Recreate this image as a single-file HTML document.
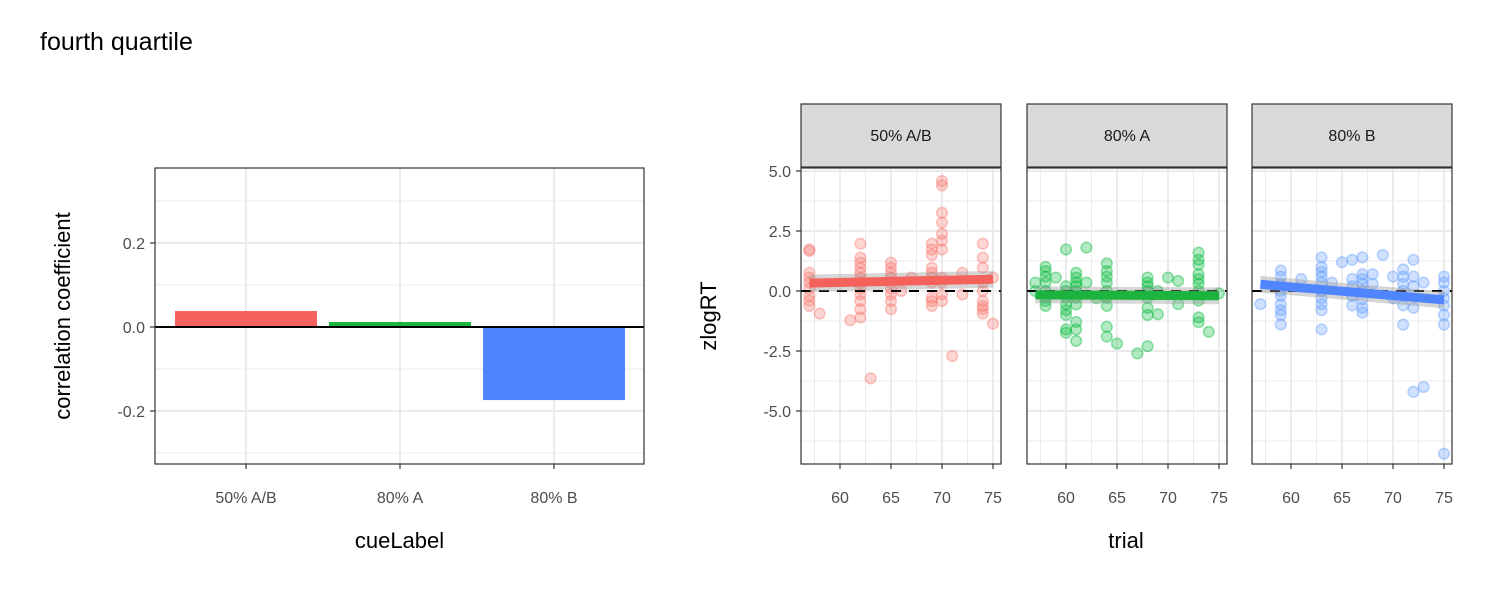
<!DOCTYPE html>
<html><head><meta charset="utf-8"><style>
html,body{margin:0;padding:0;background:#fff;}
svg{display:block;font-family:"Liberation Sans",sans-serif;}
</style></head><body>
<svg id="chart" width="1500" height="600" viewBox="0 0 1500 600"></svg>
<script>
const cueLabels = ["50% A/B","80% A","80% B"];
const corrValues = [0.038, 0.012, -0.174];
const corrTicks = [-0.2, 0.0, 0.2];
const barColors = ["#F5625C","#1DB33F","#4F86FF"];
const ptColors = ["#F8766D","#00BA38","#619CFF"];
const facetTicksX = [60,65,70,75];
const facetTicksY = [-5,-2.5,0,2.5,5];
const pts50 = [[57,1.73],[57,1.67],[57,0.76],[57,0.56],[57,0.35],[57,0.1],[57,-0.2],[57,-0.4],[57,-0.62],[58,-0.94],[61,-1.22],
[62,1.97],[62,1.39],[62,1.18],[62,0.97],[62,0.76],[62,0.56],[62,0.35],[62,0.1],[62,-0.14],[62,-0.42],[62,-0.76],[62,-1.1],[63,-3.64],
[65,1.18],[65,0.97],[65,0.76],[65,0.56],[65,0.35],[65,0.1],[65,-0.14],[65,-0.42],[65,-0.76],[66,0.0],[67,0.56],
[69,1.97],[69,1.73],[69,1.5],[69,0.97],[69,0.76],[69,0.56],[69,0.35],[69,-0.28],[69,-0.42],[69,-0.62],
[70,4.58],[70,4.4],[70,3.26],[70,2.85],[70,2.38],[70,2.1],[70,1.73],[70,0.56],[70,0.35],[70,-0.14],[70,-0.42],[71,-2.71],[72,0.76],[72,-0.14],
[74,1.97],[74,1.39],[74,0.97],[74,0.35],[74,0.0],[74,-0.42],[74,-0.62],[74,-0.76],[74,-0.94],[75,0.56],[75,-1.36]];
const pts80A = [[57,0.35],[57,0.0],[58,1.0],[58,0.83],[58,0.6],[58,0.35],[58,0.0],[58,-0.28],[58,-0.42],[58,-0.62],[59,0.56],
[60,1.73],[60,0.2],[60,0.0],[60,-0.28],[60,-0.56],[60,-0.8],[60,-1.0],[60,-1.6],[60,-1.74],
[61,0.76],[61,0.56],[61,0.35],[61,0.2],[61,0.0],[61,-0.28],[61,-0.56],[61,-1.29],[61,-1.6],[61,-2.08],[62,1.81],[62,0.35],[63,-0.3],
[64,1.15],[64,0.83],[64,0.6],[64,0.35],[64,0.0],[64,-0.28],[64,-0.62],[64,-1.49],[64,-1.9],[65,-2.19],[67,-2.6],
[68,0.56],[68,0.35],[68,0.2],[68,0.0],[68,-0.28],[68,-0.7],[68,-1.0],[68,-2.3],[69,0.0],[69,-0.97],[70,0.56],[71,0.42],[71,-0.55],
[73,1.6],[73,1.3],[73,1.1],[73,0.7],[73,0.5],[73,0.3],[73,0.0],[73,-0.4],[73,-1.1],[73,-1.3],[74,-1.7],[75,-0.1]];
const pts80B = [[57,-0.55],[59,0.85],[59,0.6],[59,0.3],[59,0.0],[59,-0.2],[59,-0.55],[59,-0.8],[59,-1.0],[59,-1.4],[61,0.5],
[63,1.4],[63,1.0],[63,0.8],[63,0.6],[63,0.35],[63,0.0],[63,-0.3],[63,-0.55],[63,-0.8],[63,-1.6],[64,0.35],[65,1.2],
[66,1.3],[66,0.5],[66,0.2],[66,-0.2],[66,-0.6],[67,1.4],[67,0.7],[67,0.5],[67,0.3],[67,0.0],[67,-0.35],[67,-0.7],[67,-0.9],
[68,0.7],[68,0.3],[69,1.5],[70,0.6],[70,-0.3],[71,0.9],[71,0.6],[71,0.3],[71,0.0],[71,-0.2],[71,-0.6],[71,-1.4],
[72,1.3],[72,0.6],[72,0.2],[72,-0.7],[72,-4.2],[73,0.35],[73,-4.0],[75,0.6],[75,0.35],[75,0.0],[75,-0.3],[75,-0.6],[75,-1.0],[75,-1.4],[75,-6.78]];
const facetLabels = ["50% A/B","80% A","80% B"];
const fitStart = [0.33, -0.16, 0.28];
const fitEnd = [0.49, -0.2, -0.37];
const fitX = [57, 75];

const NS="http://www.w3.org/2000/svg";
const svg=document.getElementById('chart');
function mk(tag,attrs,parent){const e=document.createElementNS(NS,tag);for(const k in attrs)e.setAttribute(k,attrs[k]);(parent||svg).appendChild(e);return e;}
function txt(s,attrs,parent){const e=mk('text',attrs,parent);e.textContent=s;return e;}

const title=txt("fourth quartile",{x:40,y:50,'font-size':25,fill:'#000'});



const L={x0:155,x1:644,y0:168,y1:464};
const ly=v=>327-v*420;
const lx=i=>246+i*154;
const gl=mk('g',{});


mk('rect',{x:L.x0,y:L.y0,width:L.x1-L.x0,height:L.y1-L.y0,fill:'#fff'},gl);
[-0.3,-0.1,0.1,0.3].forEach(v=>{const y=ly(v);if(y>L.y0&&y<L.y1)mk('line',{x1:L.x0,x2:L.x1,y1:y,y2:y,stroke:'#ebebeb','stroke-width':1},gl);});
corrTicks.forEach(v=>mk('line',{x1:L.x0,x2:L.x1,y1:ly(v),y2:ly(v),stroke:'#ebebeb','stroke-width':2},gl));
cueLabels.forEach((c,i)=>mk('line',{x1:lx(i),x2:lx(i),y1:L.y0,y2:L.y1,stroke:'#ebebeb','stroke-width':2},gl));
corrValues.forEach((v,i)=>{
  const r=mk('rect',{x:lx(i)-71,y:Math.min(ly(v),ly(0)),width:142,height:Math.abs(ly(v)-ly(0)),fill:barColors[i]},gl);
  
  
});
mk('line',{x1:L.x0,x2:L.x1,y1:ly(0),y2:ly(0),stroke:'#000','stroke-width':2},gl);
mk('rect',{x:L.x0,y:L.y0,width:L.x1-L.x0,height:L.y1-L.y0,fill:'none',stroke:'#333','stroke-width':1.2},gl);
corrTicks.forEach(v=>{
  mk('line',{x1:L.x0-5,x2:L.x0,y1:ly(v),y2:ly(v),stroke:'#333','stroke-width':1.2},gl);
  const t=txt(v.toFixed(1),{x:L.x0-10,y:ly(v)+6,'text-anchor':'end','font-size':16,fill:'#4d4d4d'},gl);
  
  
});
cueLabels.forEach((c,i)=>{
  mk('line',{x1:lx(i),x2:lx(i),y1:L.y1,y2:L.y1+5,stroke:'#333','stroke-width':1.2},gl);
  const t=txt(c,{x:lx(i),y:L.y1+39,'text-anchor':'middle','font-size':16,fill:'#4d4d4d'},gl);
  
  
});
const lxt=txt("cueLabel",{x:(L.x0+L.x1)/2,y:548,'text-anchor':'middle','font-size':22,fill:'#000'},gl);


const lyt=txt("correlation coefficient",{x:0,y:0,transform:`translate(70,${(L.y0+L.y1)/2}) rotate(-90)`,'text-anchor':'middle','font-size':22,fill:'#000'},gl);



const facetX0=[801,1027,1252];
const PW=200, FY0=168, FY1=464;
const fy=v=>291-v*24;
const allPts=[pts50,pts80A,pts80B];
facetLabels.forEach((lab,f)=>{
  const x0=facetX0[f];
  const fx=t=>x0+39+(t-60)*10.2;
  const g=mk('g',{});
  
  
  mk('rect',{x:x0,y:FY0,width:PW,height:FY1-FY0,fill:'#fff'},g);
  [-6.25,-3.75,-1.25,1.25,3.75].forEach(v=>mk('line',{x1:x0,x2:x0+PW,y1:fy(v),y2:fy(v),stroke:'#ebebeb','stroke-width':1},g));
  [57.5,62.5,67.5,72.5].forEach(t=>mk('line',{x1:fx(t),x2:fx(t),y1:FY0,y2:FY1,stroke:'#ebebeb','stroke-width':1},g));
  facetTicksY.forEach(v=>mk('line',{x1:x0,x2:x0+PW,y1:fy(v),y2:fy(v),stroke:'#ebebeb','stroke-width':2},g));
  facetTicksX.forEach(t=>mk('line',{x1:fx(t),x2:fx(t),y1:FY0,y2:FY1,stroke:'#ebebeb','stroke-width':2},g));
  allPts[f].forEach(p=>{
    const c=mk('circle',{cx:fx(p[0]),cy:fy(p[1]),r:5.3,fill:ptColors[f],'fill-opacity':0.3,stroke:ptColors[f],'stroke-opacity':0.4,'stroke-width':1.6},g);
    
    
  });
  mk('line',{x1:x0,x2:x0+PW,y1:fy(0),y2:fy(0),stroke:'#000','stroke-width':2,'stroke-dasharray':'10,8'},g);
  const xa=fx(fitX[0]),xb=fx(fitX[1]);
  mk('polygon',{points:`${xa},${fy(fitStart[f]+0.35)} ${xb},${fy(fitEnd[f]+0.35)} ${xb},${fy(fitEnd[f]-0.35)} ${xa},${fy(fitStart[f]-0.35)}`,fill:'#999','fill-opacity':0.4},g);
  const fl=mk('line',{x1:xa,x2:xb,y1:fy(fitStart[f]),y2:fy(fitEnd[f]),stroke:barColors[f],'stroke-width':9},g);
  
  
  mk('rect',{x:x0,y:FY0,width:PW,height:FY1-FY0,fill:'none',stroke:'#333','stroke-width':1.2},g);
  const st=mk('rect',{x:x0,y:104,width:PW,height:63,fill:'#d9d9d9',stroke:'#333','stroke-width':1.2},g);
  
  
  const stt=txt(lab,{x:x0+PW/2,y:141,'text-anchor':'middle','font-size':16,fill:'#1a1a1a'},g);
  
  
  facetTicksX.forEach(t=>{
    mk('line',{x1:fx(t),x2:fx(t),y1:FY1,y2:FY1+5,stroke:'#333','stroke-width':1.2},g);
    const tl=txt(String(t),{x:fx(t),y:FY1+39,'text-anchor':'middle','font-size':16,fill:'#4d4d4d'},g);
    
    
  });
  if(f===0){
    facetTicksY.forEach(v=>{
      mk('line',{x1:x0-5,x2:x0,y1:fy(v),y2:fy(v),stroke:'#333','stroke-width':1.2},g);
      const tl=txt(v.toFixed(1),{x:x0-10,y:fy(v)+6,'text-anchor':'end','font-size':16,fill:'#4d4d4d'},g);
      
      
    });
  }
});
const rxt=txt("trial",{x:1126,y:548,'text-anchor':'middle','font-size':22,fill:'#000'});


const ryt=txt("zlogRT",{x:0,y:0,transform:`translate(716,${(FY0+FY1)/2}) rotate(-90)`,'text-anchor':'middle','font-size':22,fill:'#000'});


</script>
</body></html>
